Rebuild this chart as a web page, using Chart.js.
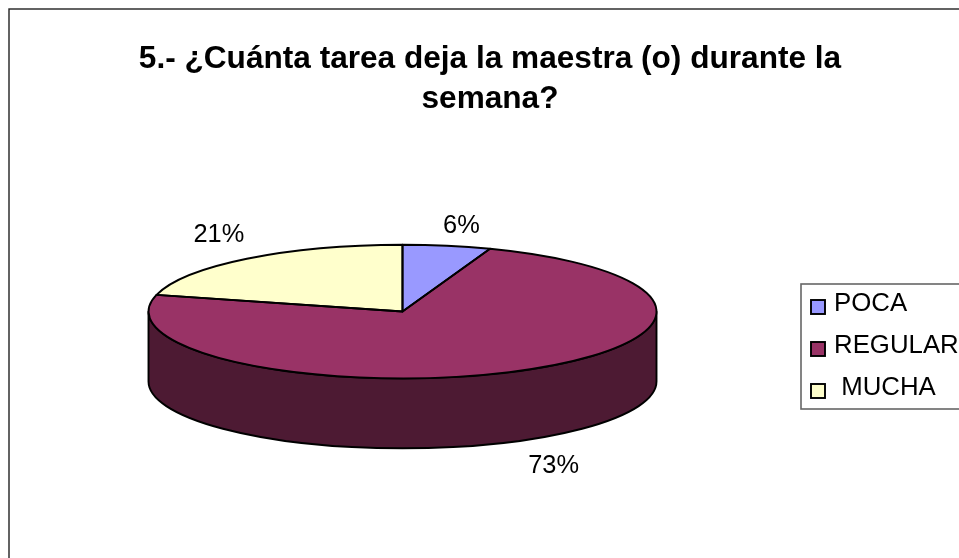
<!DOCTYPE html>
<html>
<head>
<meta charset="utf-8">
<style>
html,body{margin:0;padding:0;background:#fff;overflow:hidden;width:959px;height:558px}
canvas{display:block}
</style>
<script src="https://cdn.jsdelivr.net/npm/chart.js@4"></script>
</head>
<body>
<canvas id="c" width="980" height="558"></canvas>
<script>
const titleLines = ['5.- ¿Cuánta tarea deja la maestra (o) durante la', 'semana?'];
const categories = ['POCA', 'REGULAR', ' MUCHA'];
const percentages = [5.6, 73.4, 21];
const topColours = ['#9999FF', '#993366', '#FFFFCC'];
const sideColours = ['#4D4D80', '#4D1A33', '#808066'];

const FONT = '"Liberation Sans", Arial, sans-serif';
const CENTER_X = 402.5, CENTER_Y = 311.5, SQUASH = 0.263, DEPTH = 70, RADIUS = 254, LINE = 1.9;
const labelShift = [[14.5, -20], [33, 95], [-28, -24]];

const pie3d = {
  id: 'pie3d',
  beforeDraw(chart) {
    const c = chart.ctx;
    c.save();
    c.fillStyle = '#fff';
    c.fillRect(0, 0, chart.width, chart.height);
    c.strokeStyle = '#222';
    c.lineWidth = 1.4;
    c.strokeRect(9, 9, chart.width + 20, chart.height + 20);
    c.restore();
  },
  beforeDatasetDraw(chart) {
    const c = chart.ctx;
    const arcs = chart.getDatasetMeta(0).data;
    c.save();
    arcs.forEach((arc, i) => {
      const p = arc.getProps(['startAngle', 'endAngle', 'outerRadius'], true);
      const a = Math.max(p.startAngle, 0), b = Math.min(p.endAngle, Math.PI);
      if (b <= a) return;
      const r = p.outerRadius, ry = r * SQUASH;
      c.beginPath();
      c.ellipse(CENTER_X, CENTER_Y, r, ry, 0, a, b);
      c.lineTo(CENTER_X + r * Math.cos(b), CENTER_Y + ry * Math.sin(b) + DEPTH);
      c.ellipse(CENTER_X, CENTER_Y + DEPTH, r, ry, 0, b, a, true);
      c.closePath();
      c.fillStyle = sideColours[i];
      c.fill();
      c.strokeStyle = '#000';
      c.lineWidth = LINE;
      c.lineJoin = 'round';
      c.stroke();
    });
    c.restore();
    const first = arcs[0].getProps(['x', 'y'], true);
    c.save();
    c.translate(CENTER_X, CENTER_Y);
    c.scale(1, SQUASH);
    c.translate(-first.x, -first.y);
  },
  afterDatasetDraw(chart) {
    const c = chart.ctx;
    c.restore();
    const arcs = chart.getDatasetMeta(0).data;
    c.save();
    c.strokeStyle = '#000';
    c.lineWidth = LINE;
    c.lineJoin = 'round';
    arcs.forEach(arc => {
      const p = arc.getProps(['startAngle', 'endAngle', 'outerRadius'], true);
      c.beginPath();
      c.moveTo(CENTER_X, CENTER_Y);
      c.ellipse(CENTER_X, CENTER_Y, p.outerRadius, p.outerRadius * SQUASH, 0, p.startAngle, p.endAngle);
      c.closePath();
      c.stroke();
    });
    c.fillStyle = '#000';
    c.font = '25.4px ' + FONT;
    c.textAlign = 'center';
    c.textBaseline = 'middle';
    arcs.forEach((arc, i) => {
      const p = arc.getProps(['startAngle', 'endAngle', 'outerRadius'], true);
      const m = (p.startAngle + p.endAngle) / 2;
      const x = CENTER_X + p.outerRadius * Math.cos(m) + labelShift[i][0];
      const y = CENTER_Y + p.outerRadius * SQUASH * Math.sin(m) + labelShift[i][1];
      c.fillText(Math.round(percentages[i]) + '%', x, y);
    });
    c.restore();
  },
  afterDraw(chart) {
    const c = chart.ctx;
    c.save();
    c.fillStyle = '#fff';
    c.strokeStyle = '#666';
    c.lineWidth = 1.6;
    c.fillRect(801, 284, 200, 125);
    c.strokeRect(801, 284, 200, 125);
    c.font = '25.8px ' + FONT;
    c.textBaseline = 'middle';
    c.textAlign = 'left';
    categories.forEach((name, i) => {
      const y = 300 + i * 42;
      c.fillStyle = topColours[i];
      c.strokeStyle = '#000';
      c.lineWidth = LINE;
      c.fillRect(811, y, 14, 14);
      c.strokeRect(811, y, 14, 14);
      c.fillStyle = '#000';
      c.fillText(name, 834, y + 4);
    });
    c.restore();
  }
};

new Chart(document.getElementById('c'), {
  type: 'pie',
  data: {
    labels: categories,
    datasets: [{
      data: percentages,
      backgroundColor: topColours,
      borderWidth: 0,
      clip: false
    }]
  },
  options: {
    responsive: false,
    animation: false,
    radius: RADIUS,
    events: [],
    plugins: {
      legend: { display: false },
      tooltip: { enabled: false },
      title: {
        display: true,
        text: titleLines,
        color: '#000',
        padding: { top: 39, bottom: 0 },
        font: { family: FONT, size: 31.6, weight: 'bold', lineHeight: 1.27 }
      }
    }
  },
  plugins: [pie3d]
});
</script>
</body>
</html>
